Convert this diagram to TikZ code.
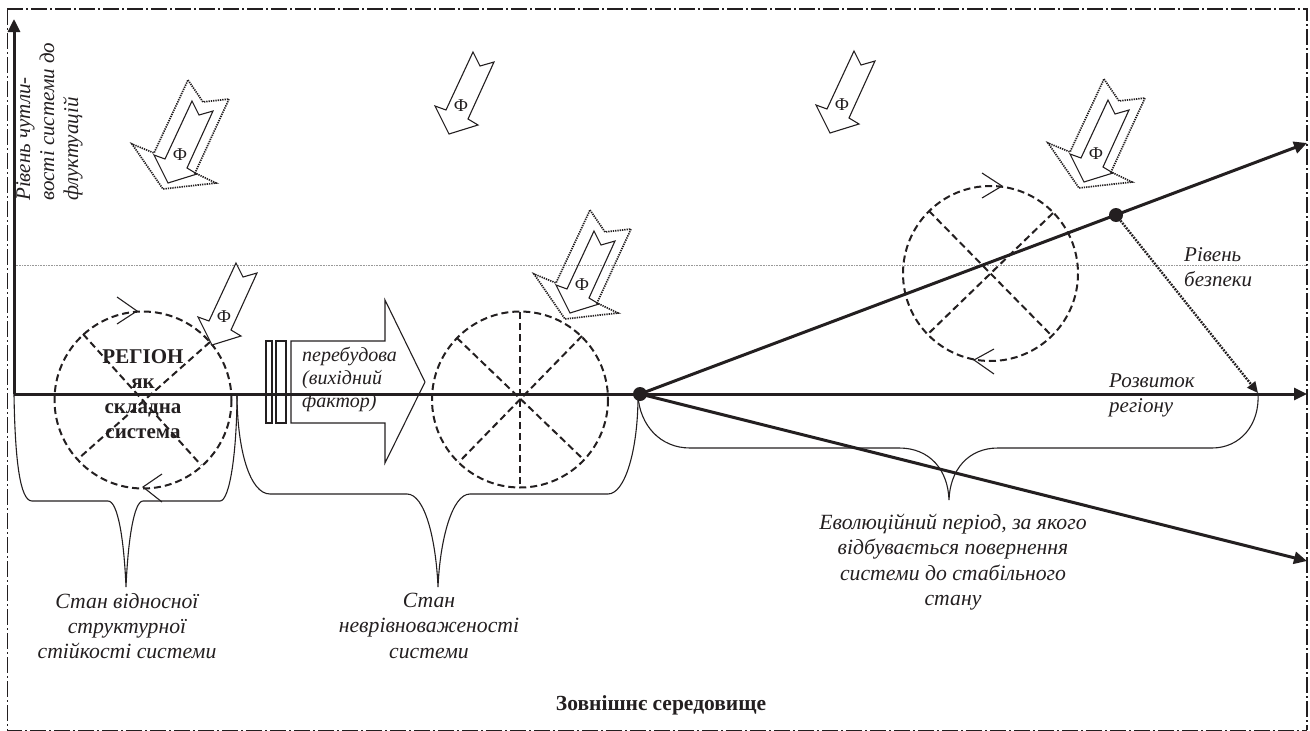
\documentclass[tikz,border=0pt]{standalone}
\usepackage{fontspec}
\setmainfont{Liberation Serif}
\usetikzlibrary{arrows.meta}
\definecolor{ink}{HTML}{231F20}
\tikzset{
  x=1pt,y=-1pt,
  framed/.style={draw=ink,dash pattern=on 16pt off 3pt on 2pt off 3pt},
  axisline/.style={draw=ink,line width=3pt,-{Triangle[length=13pt,width=12pt]}},
  dashline/.style={draw=ink,line width=2pt,dash pattern=on 7pt off 4pt},
  thinline/.style={draw=ink,line width=1.1pt},
  dotline/.style={draw=ink,line width=1.7pt,dash pattern=on 1.3pt off 1pt},
  levelline/.style={draw=black!40,line width=1pt,dash pattern=on 1pt off 0.6pt},
  dotnode/.style={circle,fill=ink,inner sep=0pt,minimum size=14pt},
  note/.style={font=\fontsize{21.7}{25.3}\selectfont\itshape,text=ink,align=center,inner sep=0pt},
  notel/.style={note,align=left},
  strong/.style={font=\fontsize{21}{25}\selectfont\bfseries,text=ink,align=center,inner sep=0pt},
  philabel/.style={font=\fontsize{18}{18}\selectfont,text=ink,inner sep=0pt},
  phiarrow/.pic={
    \draw[thinline,fill=white] (12,-54)--(19,-40)--(33,-44)--(7,13)--(17,19)--(-12,28)--(-26,0)--(-15,4)--cycle;
    \node[philabel] (-phi) at (0,0) {Ф};
  },
  phidouble/.pic={
    \draw[dotline] (8,-75)--(23,-53)--(49,-56)--(15,18)--(36,28)--(-17,34)--(-48,-11)--(-26,-2)--cycle;
    \draw[thinline] (12,-54)--(19,-40)--(33,-44)--(7,13)--(17,19)--(-12,28)--(-26,0)--(-15,4)--cycle;
    \node[philabel] (-phi) at (0,0) {Ф};
  },
}
\begin{document}
\begin{tikzpicture}
\useasboundingbox (0,0) rectangle (1310,731);
% named points
\coordinate (tl) at (7,9);
\coordinate (tr) at (1307,9);
\coordinate (bl) at (7,730);
\coordinate (br) at (1307,730);
\coordinate (yo) at (14,394);
\coordinate (ytop) at (14,19);
\coordinate (xend) at (1307,394);
\coordinate (upend) at (1307,143);
\coordinate (downend) at (1307,561);
\coordinate (levL) at (14,265);
\coordinate (levR) at (1307,265);
\coordinate (devEnd) at (1258,393);
% frame
\draw[framed,line width=1.6pt] (tl)--(tr)--(br);
\draw[framed,line width=1pt] (tl)--(bl)--(br);
% level
\draw[levelline] (levL)--(levR);
% braces
\draw[thinline] (yo) .. controls (15,460) and (20,501) .. (32,501) -- (108,501) .. controls (118,501) and (124,540) .. (126,587) .. controls (128,540) and (134,501) .. (143,501) -- (220,501) .. controls (230,501) and (237,450) .. (237,393);
\draw[thinline] (237,393) .. controls (237,450) and (250,494) .. (270,494) -- (407,494) .. controls (425,494) and (436,540) .. (438,587) .. controls (440,540) and (452,494) .. (470,494) -- (608,494) .. controls (625,494) and (638,450) .. (638,396);
\draw[thinline] (638,396) .. controls (640,425) and (660,448) .. (690,448) -- (899,448) .. controls (930,448) and (948,470) .. (949,500) .. controls (950,470) and (968,448) .. (998,448) -- (1212,448) .. controls (1240,448) and (1260,425) .. (devEnd);
% big arrow
\draw[thinline] (266,341) rectangle (272,423);
\draw[thinline] (276,341) rectangle (286,423);
\draw[thinline] (291,341)--(385,341)--(385,300)--(425,382)--(385,463)--(385,423)--(291,423)--cycle;
% circles
\draw[dashline] (143,400) circle[radius=88.5];
\draw[dashline] (83,334)--(201,465);
\draw[dashline] (210,342)--(78,459);
\draw[dashline] (520,399.5) circle[radius=88];
\draw[dashline] (520,312)--(520,487);
\draw[dashline] (457,338)--(583,459);
\draw[dashline] (582,336)--(459,462);
\draw[dashline] (990.5,273.5) circle[radius=87.5];
\draw[dashline] (929,211)--(1052,336);
\draw[dashline] (1053,213)--(928,334);
% chevrons
\draw[thinline] (117,297)--(137,311)--(117,324);
\draw[thinline] (162,474)--(143,487)--(162,502);
\draw[thinline] (982,173)--(1002,186)--(982,198);
\draw[thinline] (994,349)--(974,360)--(994,374);
% axes
\node[dotnode] (crit) at (640,394) {};
\node[dotnode] (secure) at (1116,215) {};
\draw[axisline] (yo)--(ytop);
\draw[axisline] (yo)--(xend);
\draw[axisline] (crit.center)--(upend);
\draw[axisline] (crit.center)--(downend);
\draw[draw=ink,line width=2.4pt,dash pattern=on 1.8pt off 1.2pt,-{Triangle[length=11pt,width=10pt]}] (secure)--(devEnd);
% phi arrows
\pic (a1) at (224,317) {phiarrow};
\pic (a2) at (461,106) {phiarrow};
\pic (a3) at (842,105) {phiarrow};
\pic (d1) at (180,155) {phidouble};
\pic (d2) at (582,285) {phidouble};
\pic (d3) at (1096,154) {phidouble};
% texts
\node[note,rotate=90,anchor=north west,align=left,font=\fontsize{21}{24}\selectfont\itshape] (ylab) at (16,201) {Рівень чутли-\\вості системи до\\флуктуацій};
\node[strong,anchor=north] (region) at (143,349) {РЕГІОН\\як\\складна\\система};
\node[notel,anchor=north west,font=\fontsize{20}{23}\selectfont\itshape] (rebuild) at (302,347) {перебудова\\(вихідний\\фактор)};
\node[notel,anchor=north west,font=\fontsize{21}{25}\selectfont\itshape] (safety) at (1184,247) {Рівень\\безпеки};
\node[notel,anchor=north west,font=\fontsize{21}{25}\selectfont\itshape] (dev) at (1109,374) {Розвиток\\регіону};
\node[note,anchor=north] (st1) at (127,593) {Стан відносної\\структурної\\стійкості системи};
\node[note,anchor=north] (st2) at (429,593) {Стан\\неврівноваженості\\системи};
\node[note,anchor=north] (st3) at (953,514) {Еволюційний період, за якого\\відбувається повернення\\системи до стабільного\\стану};
\node[strong,anchor=base,font=\fontsize{21.5}{25}\selectfont\bfseries] (env) at (661,710) {Зовнішнє середовище};
\end{tikzpicture}
\end{document}
